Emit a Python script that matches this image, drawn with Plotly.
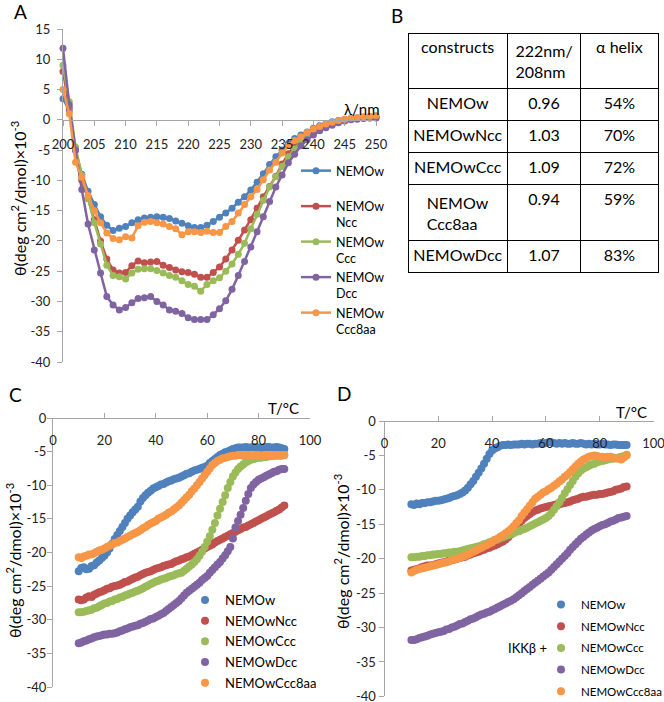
import plotly.graph_objs as go

# ---- panel A: CD spectra ----
wavelength = list(range(200, 251))

nemow_a = [3.5, 1.5, -5.0, -9.0, -11.8, -14.0, -16.0, -17.4, -18.3, -17.9,
           -17.6, -17.0, -16.5, -16.2, -16.1, -16.0, -16.1, -16.3, -16.7, -17.1,
           -17.5, -17.8, -17.8, -17.4, -16.8, -16.1, -15.4, -14.6, -13.6, -12.7,
           -11.6, -10.3, -8.9, -7.4, -6.1, -5.0, -3.9, -3.1, -2.5, -2.0,
           -1.4, -1.0, -0.6, -0.3, -0.1, 0.1, 0.2, 0.3, 0.4, 0.5,
           0.5]
ncc_a = [8.0, 2.0, -5.0, -10.0, -13.0, -16.5, -20.0, -23.0, -24.8, -25.3,
         -25.2, -24.1, -23.3, -23.6, -23.5, -23.4, -24.0, -24.4, -24.8, -25.1,
         -25.2, -25.5, -26.0, -26.0, -25.2, -24.3, -23.0, -21.5, -19.9, -18.2,
         -16.5, -14.6, -12.7, -11.0, -9.3, -7.3, -5.6, -4.3, -3.2, -2.4,
         -1.7, -1.2, -0.8, -0.5, -0.2, 0.0, 0.1, 0.2, 0.3, 0.4,
         0.4]
ccc_a = [9.0, 3.0, -4.5, -9.2, -13.0, -17.0, -20.5, -24.0, -25.7, -25.9,
         -26.3, -25.3, -24.7, -24.6, -24.6, -24.9, -25.3, -25.7, -26.0, -26.6,
         -27.2, -27.5, -28.3, -27.2, -26.6, -26.1, -25.0, -23.8, -22.2, -20.4,
         -18.0, -15.6, -13.3, -11.1, -9.4, -7.7, -6.1, -4.8, -3.7, -2.8,
         -2.0, -1.4, -1.0, -0.6, -0.3, -0.1, 0.1, 0.2, 0.3, 0.3,
         0.4]
dcc_a = [11.8, 2.5, -5.0, -11.5, -17.2, -21.5, -25.3, -29.2, -30.6, -31.4,
         -31.0, -30.2, -29.5, -29.4, -29.2, -30.0, -30.6, -31.4, -31.6, -32.0,
         -32.7, -33.0, -33.0, -33.0, -32.2, -31.2, -29.9, -28.0, -25.7, -23.4,
         -21.0, -18.5, -16.0, -13.5, -11.1, -9.1, -7.1, -5.7, -4.3, -3.3,
         -2.5, -1.8, -1.3, -0.9, -0.5, -0.2, 0.0, 0.1, 0.2, 0.3,
         0.3]
ccc8aa_a = [5.0, 1.0, -7.0, -9.5, -12.5, -15.0, -17.0, -18.7, -19.6, -19.8,
            -19.3, -19.5, -17.5, -16.9, -16.8, -17.0, -17.2, -17.6, -18.0, -19.0,
            -18.5, -18.5, -18.6, -18.4, -18.6, -18.6, -17.6, -16.8, -15.4, -14.0,
            -12.7, -11.5, -9.9, -8.3, -7.0, -5.5, -4.3, -3.4, -2.8, -2.1,
            -1.5, -1.1, -0.7, -0.4, -0.1, 0.1, 0.3, 0.4, 0.5, 0.6,
            0.7]

# ---- panel B: table ----
constructs = ['NEMOw', 'NEMOwNcc', 'NEMOwCcc', 'NEMOw<br>Ccc8aa', 'NEMOwDcc']
ratio_222_208 = ['0.96', '1.03', '1.09', '0.94', '1.07']
helix = ['54%', '70%', '72%', '59%', '83%']

# ---- panels C and D: thermal melts ----
temperature = list(range(10, 91))

nemow_c = [-22.8, -22.3, -22.2, -22.5, -22.4, -22.0, -21.9, -21.5, -21.2, -20.8,
           -20.5, -20.0, -19.4, -18.7, -18.0, -17.4, -16.8, -16.2, -15.6, -15.0,
           -14.5, -14.0, -13.6, -13.2, -12.4, -11.9, -11.5, -11.1, -10.8, -10.5,
           -10.3, -10.1, -9.9, -9.8, -9.6, -9.4, -9.3, -9.1, -9.0, -8.9,
           -8.7, -8.5, -8.3, -8.2, -8.0, -7.8, -7.7, -7.6, -7.4, -7.3,
           -7.1, -6.7, -6.4, -6.1, -5.8, -5.5, -5.3, -5.1, -5.0, -4.8,
           -4.6, -4.5, -4.4, -4.4, -4.4, -4.3, -4.4, -4.4, -4.3, -4.4,
           -4.4, -4.5, -4.4, -4.3, -4.3, -4.4, -4.4, -4.3, -4.4, -4.5,
           -4.6]
ncc_c = [-27.0, -27.1, -27.0, -26.7, -26.5, -26.6, -26.3, -26.1, -25.9, -25.8,
         -25.6, -25.4, -25.3, -25.1, -25.0, -24.9, -24.8, -24.6, -24.4, -24.3,
         -24.1, -23.9, -23.7, -23.6, -23.4, -23.2, -23.0, -22.9, -22.8, -22.6,
         -22.4, -22.3, -22.2, -22.0, -21.9, -21.8, -21.7, -21.5, -21.3, -21.2,
         -21.0, -20.9, -20.7, -20.6, -20.4, -20.2, -20.0, -19.8, -19.6, -19.4,
         -19.2, -19.0, -18.8, -18.5, -18.3, -18.1, -17.9, -17.7, -17.5, -17.3,
         -17.1, -16.9, -16.7, -16.5, -16.3, -16.2, -16.0, -15.8, -15.6, -15.4,
         -15.2, -15.0, -14.8, -14.6, -14.4, -14.2, -14.0, -13.8, -13.6, -13.3,
         -13.0]
ccc_c = [-28.9, -28.9, -28.8, -28.7, -28.6, -28.5, -28.3, -28.2, -28.0, -27.8,
         -27.6, -27.5, -27.3, -27.2, -27.0, -26.9, -26.7, -26.6, -26.4, -26.3,
         -26.1, -26.0, -25.8, -25.7, -25.5, -25.3, -25.1, -24.9, -24.7, -24.5,
         -24.3, -24.2, -24.0, -23.9, -23.8, -23.6, -23.5, -23.4, -23.2, -23.1,
         -23.0, -22.7, -22.4, -22.1, -21.8, -21.4, -21.0, -20.5, -19.9, -19.2,
         -18.4, -17.6, -16.6, -15.6, -14.5, -13.5, -12.5, -11.5, -10.4, -9.5,
         -8.7, -8.1, -7.6, -7.2, -6.9, -6.6, -6.4, -6.2, -6.1, -6.0,
         -5.9, -5.9, -5.8, -5.8, -5.7, -5.7, -5.6, -5.6, -5.6, -5.5,
         -5.5]
dcc_c = [-33.5, -33.4, -33.2, -33.1, -32.9, -32.8, -32.6, -32.5, -32.4, -32.3,
         -32.2, -32.2, -32.1, -32.1, -32.0, -31.9, -31.7, -31.6, -31.4, -31.3,
         -31.1, -31.0, -30.9, -30.8, -30.6, -30.5, -30.3, -30.1, -29.9, -29.8,
         -29.6, -29.4, -29.2, -29.0, -28.7, -28.4, -28.1, -27.8, -27.5, -27.2,
         -26.8, -26.4, -26.0, -25.7, -25.4, -25.1, -24.8, -24.5, -24.1, -23.8,
         -23.5, -23.0, -22.6, -22.2, -21.8, -21.4, -20.9, -20.4, -19.8, -19.2,
         -17.9, -16.3, -15.3, -14.4, -13.4, -12.3, -11.3, -10.4, -9.9, -9.5,
         -9.2, -9.0, -8.8, -8.6, -8.4, -8.2, -8.0, -7.9, -7.7, -7.6,
         -7.6]
ccc8aa_c = [-20.7, -20.8, -20.6, -20.5, -20.3, -20.3, -20.1, -19.9, -19.7, -19.6,
            -19.4, -19.2, -19.0, -18.8, -18.6, -18.5, -18.3, -18.1, -17.9, -17.7,
            -17.5, -17.3, -17.1, -16.9, -16.7, -16.4, -16.2, -15.9, -15.7, -15.5,
            -15.3, -15.0, -14.8, -14.6, -14.4, -14.1, -13.9, -13.6, -13.3, -13.0,
            -12.6, -12.2, -11.8, -11.4, -10.9, -10.5, -10.0, -9.5, -9.0, -8.5,
            -8.0, -7.5, -7.0, -6.7, -6.4, -6.2, -6.0, -5.9, -5.8, -5.7,
            -5.6, -5.6, -5.5, -5.5, -5.6, -5.5, -5.5, -5.6, -5.5, -5.5,
            -5.5, -5.6, -5.5, -5.5, -5.5, -5.6, -5.5, -5.5, -5.5, -5.6,
            -5.5]

nemow_d = [-12.1, -12.2, -12.0, -12.1, -11.9, -11.9, -11.8, -11.8, -11.7, -11.6,
           -11.6, -11.5, -11.4, -11.3, -11.2, -11.0, -10.9, -10.8, -10.6, -10.4,
           -10.1, -9.7, -9.2, -8.7, -8.1, -7.5, -6.9, -6.2, -5.5, -4.8,
           -4.3, -4.0, -3.8, -3.6, -3.5, -3.5, -3.4, -3.5, -3.4, -3.4,
           -3.4, -3.3, -3.4, -3.3, -3.3, -3.4, -3.3, -3.3, -3.2, -3.3,
           -3.2, -3.1, -3.1, -3.2, -3.3, -3.2, -3.3, -3.2, -3.3, -3.3,
           -3.2, -3.3, -3.3, -3.2, -3.3, -3.4, -3.3, -3.4, -3.3, -3.4,
           -3.4, -3.3, -3.4, -3.4, -3.5, -3.4, -3.4, -3.5, -3.5, -3.5,
           -3.5]
ncc_d = [-21.7, -21.6, -21.5, -21.4, -21.2, -21.1, -21.0, -21.0, -20.9, -20.8,
         -20.7, -20.6, -20.5, -20.4, -20.3, -20.2, -20.1, -20.0, -19.9, -19.8,
         -19.7, -19.5, -19.4, -19.2, -19.1, -19.0, -18.8, -18.7, -18.5, -18.4,
         -18.2, -18.1, -17.9, -17.7, -17.5, -17.2, -16.9, -16.5, -16.1, -15.6,
         -15.0, -14.5, -14.1, -13.8, -13.5, -13.2, -13.0, -12.9, -12.7, -12.6,
         -12.5, -12.4, -12.3, -12.2, -12.1, -12.1, -12.0, -11.9, -11.8, -11.7,
         -11.5, -11.4, -11.3, -11.1, -11.0, -11.0, -10.9, -10.8, -10.7, -10.7,
         -10.6, -10.6, -10.5, -10.4, -10.3, -10.2, -10.0, -9.9, -9.8, -9.6,
         -9.5]
ccc_d = [-19.8, -19.8, -19.7, -19.7, -19.6, -19.6, -19.5, -19.5, -19.4, -19.4,
         -19.3, -19.3, -19.2, -19.2, -19.1, -19.1, -19.0, -19.0, -18.9, -18.8,
         -18.7, -18.6, -18.5, -18.4, -18.3, -18.2, -18.1, -17.9, -17.8, -17.6,
         -17.5, -17.3, -17.2, -17.0, -16.9, -16.7, -16.6, -16.4, -16.3, -16.1,
         -16.0, -15.8, -15.7, -15.5, -15.3, -15.1, -14.9, -14.7, -14.5, -14.3,
         -14.1, -13.8, -13.4, -12.9, -12.4, -11.8, -11.2, -10.5, -9.9, -9.3,
         -8.7, -8.1, -7.6, -7.2, -6.9, -6.7, -6.5, -6.3, -6.2, -6.0,
         -5.9, -5.8, -5.7, -5.6, -5.5, -5.5, -5.4, -5.3, -5.2, -5.1,
         -4.9]
dcc_d = [-31.8, -31.8, -31.7, -31.5, -31.4, -31.3, -31.2, -31.0, -30.9, -30.8,
         -30.7, -30.6, -30.5, -30.3, -30.2, -30.0, -29.9, -29.7, -29.5, -29.4,
         -29.2, -29.0, -28.8, -28.7, -28.5, -28.3, -28.1, -28.0, -27.8, -27.7,
         -27.5, -27.3, -27.1, -26.9, -26.7, -26.5, -26.3, -26.1, -25.9, -25.6,
         -25.3, -25.0, -24.7, -24.4, -24.1, -23.8, -23.5, -23.2, -22.9, -22.6,
         -22.3, -22.0, -21.6, -21.2, -20.8, -20.4, -20.0, -19.6, -19.2, -18.7,
         -18.3, -17.9, -17.5, -17.1, -16.8, -16.5, -16.2, -15.9, -15.7, -15.5,
         -15.3, -15.1, -15.0, -14.8, -14.6, -14.5, -14.3, -14.1, -14.0, -13.9,
         -13.8]
ccc8aa_d = [-22.0, -21.8, -21.6, -21.5, -21.4, -21.3, -21.2, -21.1, -21.0, -20.9,
            -20.8, -20.7, -20.6, -20.5, -20.4, -20.2, -20.1, -20.0, -19.9, -19.7,
            -19.6, -19.4, -19.2, -19.0, -18.8, -18.6, -18.4, -18.2, -18.0, -17.8,
            -17.6, -17.3, -17.1, -16.8, -16.6, -16.3, -16.0, -15.7, -15.3, -14.8,
            -14.4, -13.8, -13.3, -12.8, -12.3, -11.8, -11.3, -11.0, -10.7, -10.4,
            -10.2, -9.9, -9.7, -9.4, -9.1, -8.8, -8.5, -8.1, -7.8, -7.4,
            -7.0, -6.6, -6.2, -5.9, -5.6, -5.4, -5.2, -5.1, -5.0, -5.1,
            -5.2, -5.2, -5.3, -5.2, -5.2, -5.3, -5.4, -5.5, -5.6, -5.3,
            -5.0]

names_a = ['NEMOw<br>\u00a0', 'NEMOw<br>Ncc', 'NEMOw<br>Ccc', 'NEMOw<br>Dcc', 'NEMOw<br>Ccc8aa']
names_cd = ['NEMOw', 'NEMOwNcc', 'NEMOwCcc', 'NEMOwDcc', 'NEMOwCcc8aa']
colors = ['#4F81BD', '#C0504D', '#9BBB59', '#8064A2', '#F79646']

ticks_a = list(range(-40, 16, 5))
ticks_cd = list(range(-40, 1, 5))
ticks_wl = list(range(200, 251, 5))
ticks_t = list(range(0, 101, 20))

W, H = 664, 702


def px_x(v):
    return v / W


def px_y(v):
    return 1 - v / H


fig = go.Figure()

for name, ys, col in zip(names_a, [nemow_a, ncc_a, ccc_a, dcc_a, ccc8aa_a], colors):
    fig.add_trace(go.Scatter(x=wavelength, y=ys, name=name, mode='lines+markers',
                             line=dict(color=col, width=2.5),
                             marker=dict(color=col, size=7),
                             cliponaxis=False, xaxis='x', yaxis='y', legend='legend'))

for i, (name, ys, col) in enumerate(zip(names_cd, [nemow_c, ncc_c, ccc_c, dcc_c, ccc8aa_c], colors)):
    fig.add_trace(go.Scatter(x=temperature, y=ys, name=name, mode='markers',
                             marker=dict(color=col, size=8),
                             cliponaxis=False, xaxis='x2', yaxis='y2',
                             legend='legend2', legendgroup='c%d' % i))

for i, (name, ys, col) in enumerate(zip(names_cd, [nemow_d, ncc_d, ccc_d, dcc_d, ccc8aa_d], colors)):
    fig.add_trace(go.Scatter(x=temperature, y=ys, name=name, mode='markers',
                             marker=dict(color=col, size=8),
                             cliponaxis=False, xaxis='x3', yaxis='y3',
                             legend='legend3', legendgroup='d%d' % i))

fig.add_trace(go.Table(
    domain=dict(x=[px_x(408), px_x(658)], y=[0.3, px_y(33)]),
    columnwidth=[99, 73, 77],
    header=dict(values=['constructs', '222nm/<br>208nm', '\u03b1 helix'],
                align='center', height=32,
                line=dict(color='black', width=1), fill=dict(color='white'),
                font=dict(family='Lato', size=16, color='black')),
    cells=dict(values=[constructs, ratio_222_208, helix],
               align='center', height=32,
               line=dict(color='black', width=1), fill=dict(color='white'),
               font=dict(family='Lato', size=16, color='black'))))

axis_line = '#a6a6a6'
tick_font = dict(family='Lato', size=13, color='#222222')
ya_top = px_y(29)
ya_bot = px_y(362)
x_at_zero = ya_bot + (40 / 55) * (ya_top - ya_bot)
yc_top = px_y(418)
yd_top = px_y(421)

common_y = dict(showgrid=False, zeroline=False, showline=True, linecolor=axis_line,
                ticks='outside', ticklen=5, tickcolor=axis_line, tickfont=tick_font,
                ticklabeloverflow='allow')
common_t = dict(range=[0, 100], anchor='free', side='bottom', showgrid=False, zeroline=False,
                showline=True, linecolor=axis_line, ticks='inside', ticklen=5,
                tickcolor=axis_line, tickfont=tick_font, tickvals=ticks_t,
                ticktext=[str(v) for v in ticks_t], ticklabelstandoff=10,
                ticklabeloverflow='allow')

fig.update_layout(
    width=W, height=H,
    margin=dict(l=0, r=0, t=0, b=0, autoexpand=False),
    paper_bgcolor='white', plot_bgcolor='white',
    font=dict(family='Lato', color='black'),
    xaxis=dict(domain=[px_x(63), px_x(376)], range=[200, 250], anchor='free', position=x_at_zero,
               showgrid=False, zeroline=False, showline=True, linecolor=axis_line,
               ticks='outside', ticklen=5, tickcolor=axis_line, tickfont=tick_font,
               tickvals=ticks_wl, ticktext=[str(v) for v in ticks_wl], ticklabelstandoff=8,
               ticklabeloverflow='allow'),
    yaxis=dict(domain=[ya_bot, ya_top], range=[-40, 15], anchor='x', ticklabelstandoff=4,
               tickvals=ticks_a, ticktext=[str(v) for v in ticks_a], **common_y),
    xaxis2=dict(domain=[px_x(53), px_x(310)], position=yc_top, **common_t),
    yaxis2=dict(domain=[px_y(687), yc_top], range=[-40, 0], anchor='x2', ticklabelstandoff=-2,
                tickvals=ticks_cd, ticktext=[str(v) for v in ticks_cd], **common_y),
    xaxis3=dict(domain=[px_x(384.5), px_x(653.5)], position=yd_top, **common_t),
    yaxis3=dict(domain=[px_y(696.4), yd_top], range=[-40, 0], anchor='x3',
                tickvals=ticks_cd, ticktext=[str(v) for v in ticks_cd], **common_y),
    legend=dict(x=px_x(296), y=px_y(156), xanchor='left', yanchor='top', valign='top',
                bgcolor='rgba(0,0,0,0)', font=dict(family='Lato', size=12.5, color='black')),
    legend2=dict(x=px_x(185), y=px_y(585), xanchor='left', yanchor='top', tracegroupgap=0.8,
                 bgcolor='rgba(0,0,0,0)', font=dict(family='Lato', size=13, color='black')),
    legend3=dict(x=px_x(541), y=px_y(590), xanchor='left', yanchor='top', tracegroupgap=2.7,
                 bgcolor='rgba(0,0,0,0)', font=dict(family='Lato', size=11.5, color='black')),
)

ytitle = '\u03b8(deg cm<sup>2</sup>/dmol)\u00d710<sup>-3</sup>'
notes = [
    dict(text='A', x=20, y=11, size=19),
    dict(text='B', x=397, y=15, size=19),
    dict(text='C', x=15, y=394, size=19),
    dict(text='D', x=344, y=393, size=19),
    dict(text='\u03bb/nm', x=362, y=109, size=15),
    dict(text='T/\u00b0C', x=283, y=408, size=15),
    dict(text='T/\u00b0C', x=631, y=412, size=15),
    dict(text='IKK\u03b2 +', x=527, y=648, size=13),
]
for n in notes:
    fig.add_annotation(text=n['text'], x=px_x(n['x']), y=px_y(n['y']), xref='paper', yref='paper',
                       xanchor='center', yanchor='middle', showarrow=False,
                       font=dict(family='Lato', size=n['size'], color='black'))

for xp, yp in [(18, 199), (13, 561), (341, 551)]:
    fig.add_annotation(text=ytitle, x=px_x(xp), y=px_y(yp), xref='paper', yref='paper',
                       xanchor='center', yanchor='middle', showarrow=False, textangle=-90,
                       font=dict(family='Lato', size=16, color='black'))

# the page body has a default 8px margin; drop it so the figure sits at the corner
fig.write_html("out.html", config={'displayModeBar': False},
               post_script="document.body.style.margin='0';")
